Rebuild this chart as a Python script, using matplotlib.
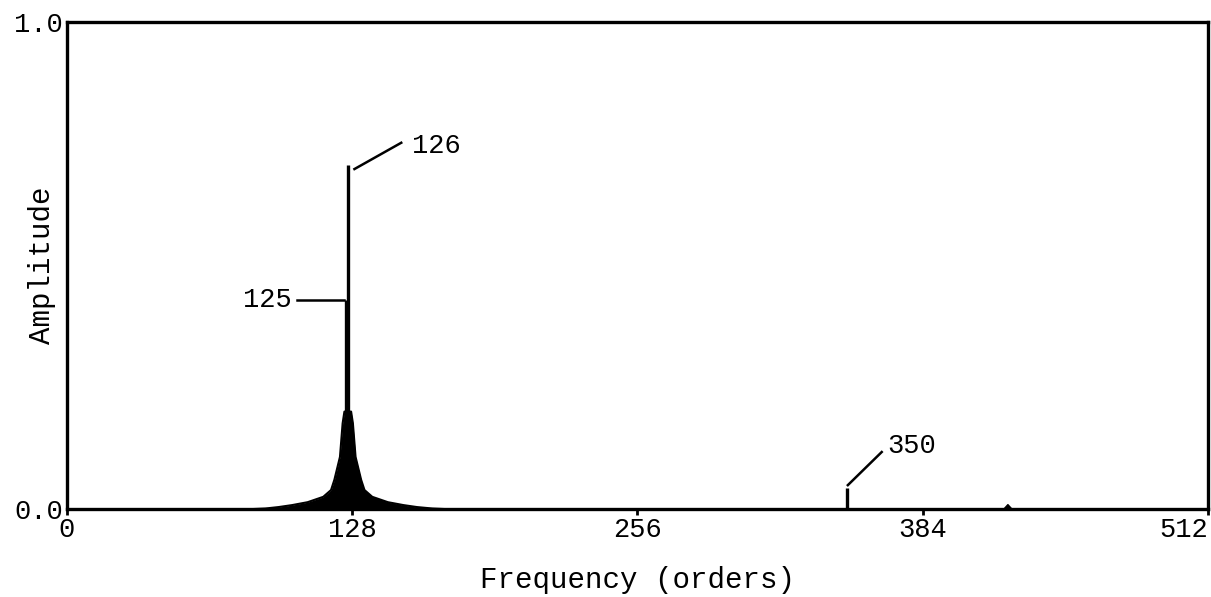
import numpy as np
import matplotlib
matplotlib.use("Agg")
import matplotlib.pyplot as plt

plt.rcParams['font.family'] = ['Liberation Mono', 'DejaVu Sans Mono']

# spectral lines (order, amplitude)
line_orders = [125, 126, 350]
line_amps = [0.43, 0.706, 0.043]

# leakage envelope around the main peak
env_orders = [84, 89, 95, 101, 108, 115, 118.5, 120, 122.5, 123.7, 124.5,
              127.5, 128.3, 129.5, 132, 133.5, 137, 144, 151, 157, 164, 169]
env_amps = [0.0, 0.001, 0.004, 0.008, 0.014, 0.025, 0.039, 0.06, 0.107, 0.176, 0.2,
            0.2, 0.176, 0.107, 0.06, 0.039, 0.025, 0.014, 0.008, 0.004, 0.001, 0.0]

# small bump near order 422
bump_orders = [420, 422, 424]
bump_amps = [0.0, 0.01, 0.0]

xticks = [0, 128, 256, 384, 512]

fig = plt.figure(figsize=(12.11, 5.97), dpi=100)
ax = fig.add_axes([0.0553, 0.1474, 0.9422, 0.8158])

ax.fill_between(env_orders, 0, env_amps, color='black', lw=0)
ax.plot(env_orders, env_amps, color='black', lw=1.5)
ax.vlines(line_orders, 0, line_amps, color='black', lw=2.4)
ax.fill_between(bump_orders, 0, bump_amps, color='black', lw=1)

# annotations
ax.plot([129, 150], [0.698, 0.752], color='black', lw=1.8)
ax.text(155, 0.745, '126', fontsize=19.5, va='center', ha='left')
ax.plot([103, 124.5], [0.43, 0.43], color='black', lw=1.8)
ax.text(101, 0.43, '125', fontsize=19.5, va='center', ha='right')
ax.plot([350.4, 365.6], [0.049, 0.117], color='black', lw=1.8)
ax.text(368, 0.129, '350', fontsize=19.5, va='center', ha='left')

ax.set_xlim(0, 512)
ax.set_ylim(0, 1.0)
ax.set_xticks(xticks)
labels = ax.set_xticklabels([str(t) for t in xticks], fontsize=19.5)
labels[-1].set_ha('right')
ax.set_yticks([0, 1.0])
ax.set_yticklabels(['0.0', '1.0'], fontsize=19.5)
ax.tick_params(axis='x', direction='out', length=4, width=2, pad=2)
ax.tick_params(axis='y', length=0, pad=3)
for s in ax.spines.values():
    s.set_linewidth(2.4)

ax.set_xlabel('Frequency (orders)', fontsize=21, labelpad=16)
ax.set_ylabel('Amplitude', fontsize=21)
ax.yaxis.set_label_coords(-0.0096, 0.5)

fig.savefig('out.png', dpi=100)
